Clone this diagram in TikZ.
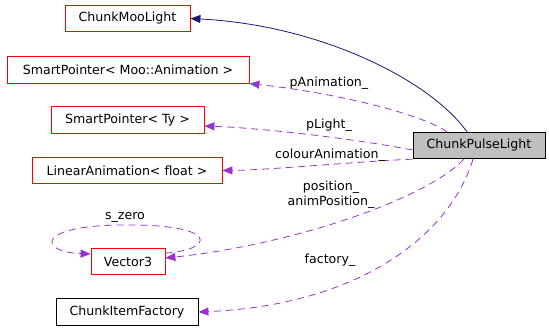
\documentclass[tikz,border=0pt]{standalone}
\usepackage{fontspec}
\setmainfont{DejaVu Sans}
\usetikzlibrary{arrows.meta}
\definecolor{edgepurple}{HTML}{9A32CD}
\definecolor{edgenavy}{HTML}{191970}
\definecolor{boxgray}{HTML}{BFBFBF}
\begin{document}
\begin{tikzpicture}[x=1bp,y=-1bp,
  every node/.style={font=\fontsize{12.6bp}{15bp}\selectfont, inner sep=0pt},
  cls/.style={draw=red, line width=0.8bp, minimum height=26.5bp},
  clsdoc/.style={draw=black, line width=0.8bp, minimum height=26.5bp},
  focus/.style={draw=black, fill=boxgray, line width=0.8bp, minimum height=26.5bp},
  uses/.style={draw=edgepurple, line width=0.8bp, dash pattern=on 7bp off 5bp,
    -{Triangle[length=10bp,width=8bp,fill=edgepurple]}},
  inherit/.style={draw=edgenavy, line width=0.8bp,
    -{Triangle[length=10bp,width=8bp,fill=edgenavy]}},
  lbl/.style={align=center}]
\useasboundingbox (0,0) rectangle (549,330);

% classes
\node[cls, minimum width=125bp] (moolight) at (127.5,18.5) {ChunkMooLight};
\node[cls, minimum width=242bp] (spmoo) at (128,70) {SmartPointer< Moo::Animation >};
\node[cls, minimum width=153bp] (spty) at (127.5,120) {SmartPointer< Ty >};
\node[cls, minimum width=190bp] (linanim) at (127,170.5) {LinearAnimation< float >};
\node[cls, minimum width=74bp] (vec) at (128,261.5) {Vector3};
\node[clsdoc, minimum width=142bp] (factory) at (127,312) {ChunkItemFactory};
\node[focus, minimum width=132bp] (pulse) at (479,145.5) {ChunkPulseLight};

% inheritance
\draw[inherit] ([xshift=-12bp]pulse.north) .. controls (430,80) and (320,25) .. (moolight.east);

% members
\draw[uses] ([xshift=-32bp]pulse.north) .. controls (420,113) and (330,92) .. (spmoo.south east);
\draw[uses] ([yshift=-4.5bp]pulse.west) .. controls (350,138) and (260,128) .. ([yshift=-6bp]spty.east);
\draw[uses] (pulse.south west) .. controls (350,162) and (270,170) .. (linanim.east);
\draw[uses] ([xshift=-15bp]pulse.south) .. controls (425,200) and (290,245) .. ([yshift=3.5bp]vec.east);
\draw[uses] ([xshift=-6bp]pulse.south) .. controls (450,235) and (360,305) .. (factory.east);
\draw[uses] ([yshift=8.5bp]vec.east) .. controls (215,250) and (220,224) .. (125,225)
  .. controls (35,225) and (38,252) .. ([yshift=7.5bp]vec.west);

% member labels
\node[lbl] (lpanim) at (329,83) {pAnimation\_};
\node[lbl] (lplight) at (329,125) {pLight\_};
\node[lbl] (lcolour) at (330,155) {colourAnimation\_};
\node[lbl] (lpos) at (331,195) {position\_\\animPosition\_};
\node[lbl] (lfactory) at (330,260) {factory\_};
\node[lbl] (lszero) at (125,217) {s\_zero};
\end{tikzpicture}
\end{document}
